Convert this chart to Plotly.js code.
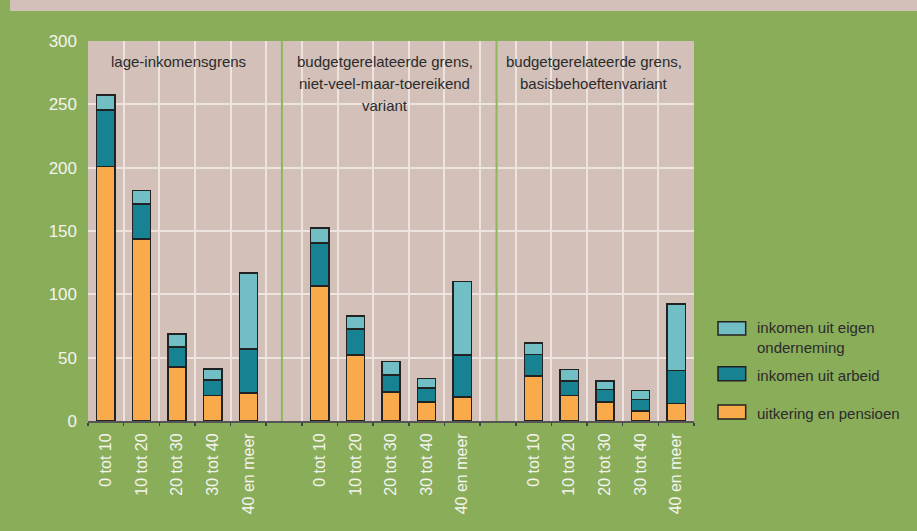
<!DOCTYPE html>
<html>
<head>
<meta charset="utf-8">
<script src="https://cdn.plot.ly/plotly-3.0.1.min.js"></script>
<style>
html,body{margin:0;padding:0;background:#8aad5a;}
#chart{width:917px;height:531px;}
</style>
</head>
<body>
<div id="chart"></div>
<script>
const categories = ['0 tot 10','10 tot 20','20 tot 30','30 tot 40','40 en meer'];
const groupLabels = [
  ['lage-inkomensgrens'],
  ['budgetgerelateerde grens,','niet-veel-maar-toereikend','variant'],
  ['budgetgerelateerde grens,','basisbehoeftenvariant']
];
const seriesNames = ['uitkering en pensioen','inkomen uit arbeid','inkomen uit eigen<br>onderneming'];
const uitkering = [201,143.5,42.5,20,22, 106.5,52,23,15,19, 35.5,20,15,8,14];
const arbeid    = [44.5,28,16,12.5,35, 34,20.5,13.5,11,33, 17,11.5,10,9,26];
const eigen     = [12,10.5,10,8.5,60, 12,10.5,10.5,7.5,58, 9,9,6.5,7,52.5];
const yTicks = [0,50,100,150,200,250,300];

const colors = ['#f9ab4b','#178291','#72bec5'];
const nG = groupLabels.length, nC = categories.length, slot = nC + 1;
const xs = [], tickvals = [], ticktext = [];
for (let g = 0; g < nG; g++) {
  for (let i = 0; i < nC; i++) {
    xs.push(g*slot + i); tickvals.push(g*slot + i); ticktext.push(categories[i]);
  }
}
const nSlots = nG*slot - 1;
const bounds = [];
for (let k = 0; k <= nSlots; k++) bounds.push(k - 0.5);

const series = [uitkering, arbeid, eigen];
const traces = series.map((vals, s) => ({
  type: 'bar', x: xs, y: vals, name: seriesNames[s],
  width: 0.51,
  marker: {color: colors[s], line: {color: '#222222', width: 1.5}},
  showlegend: false, hoverinfo: 'skip'
}));

const font = 'Liberation Sans, Arial, sans-serif';
const annotations = [];
const groupCenters = [2.05, 7.83, 13.69];
const lineY = [0.947, 0.889, 0.829];
groupLabels.forEach((lines, g) => {
  lines.forEach((t, j) => {
    annotations.push({
      xref: 'x', yref: 'paper', x: groupCenters[g], y: lineY[j],
      xanchor: 'center', yanchor: 'middle', showarrow: false, text: t,
      font: {family: font, size: 15, color: '#2b2b2b'}
    });
  });
});

// legend (custom)
const legendOrder = [2,1,0];
const legBoxes = [[0.2263,0.2613],[0.1061,0.1429],[0.0053,0.0421]];
const legTextY = [0.219, 0.121, 0.021];
const shapes = [];
legendOrder.forEach((s, k) => {
  shapes.push({type:'rect', xref:'paper', yref:'paper', x0:1.0396, x1:1.0853,
    y0: legBoxes[k][0], y1: legBoxes[k][1], fillcolor: colors[s],
    line:{color:'#222222', width:1.5}});
  annotations.push({xref:'paper', yref:'paper', x:1.1, y:legTextY[k],
    xanchor:'left', yanchor:'middle', align:'left', showarrow:false,
    text: seriesNames[s], font:{family:font, size:15, color:'#2b2b2b'}});
});
// top strip
shapes.push({type:'rect', xref:'paper', yref:'paper', x0:-0.1287, x1:1.37, y0:1.079, y1:1.2,
  fillcolor:'#d2c0b9', line:{width:0}, layer:'below'});
// group separators
[4.94, 10.96].forEach(xv => shapes.push({type:'line', xref:'x', yref:'paper', x0:xv, x1:xv, y0:0, y1:1,
  line:{color:'#8db95a', width:2}}));

const layout = {
  width: 917, height: 531,
  margin: {l: 88, r: 223, t: 41, b: 110, pad: 0},
  paper_bgcolor: '#8aad5a', plot_bgcolor: '#d2c0b9',
  barmode: 'stack', bargap: 0,
  font: {family: font, size: 16, color: '#f4f4ee'},
  xaxis: {
    range: [-0.5, nSlots - 0.5], tickmode: 'array', tickvals: tickvals, ticktext: ticktext,
    tickangle: -90, ticks: '', showgrid: false, zeroline: false,
    showline: true, linecolor: '#555555', linewidth: 2,
    tickfont: {family: font, size: 16, color: '#f4f4ee'}, ticklabelstandoff: 4,
    minor: {tickmode: 'array', tickvals: bounds, showgrid: true, gridcolor: '#ede4e0', gridwidth: 2,
      ticks: 'outside', ticklen: 3, tickcolor: '#444444', tickwidth: 1.5}
  },
  yaxis: {
    range: [0, 300], tickmode: 'array', tickvals: yTicks, ticks: '',
    showgrid: true, gridcolor: '#ede4e0', gridwidth: 2, zeroline: false, showline: false,
    tickfont: {family: font, size: 17, color: '#f4f4ee'}, ticklabelstandoff: 10
  },
  annotations: annotations,
  shapes: shapes,
  showlegend: false
};

Plotly.newPlot('chart', traces, layout, {displayModeBar: false, staticPlot: true});
</script>
</body>
</html>
